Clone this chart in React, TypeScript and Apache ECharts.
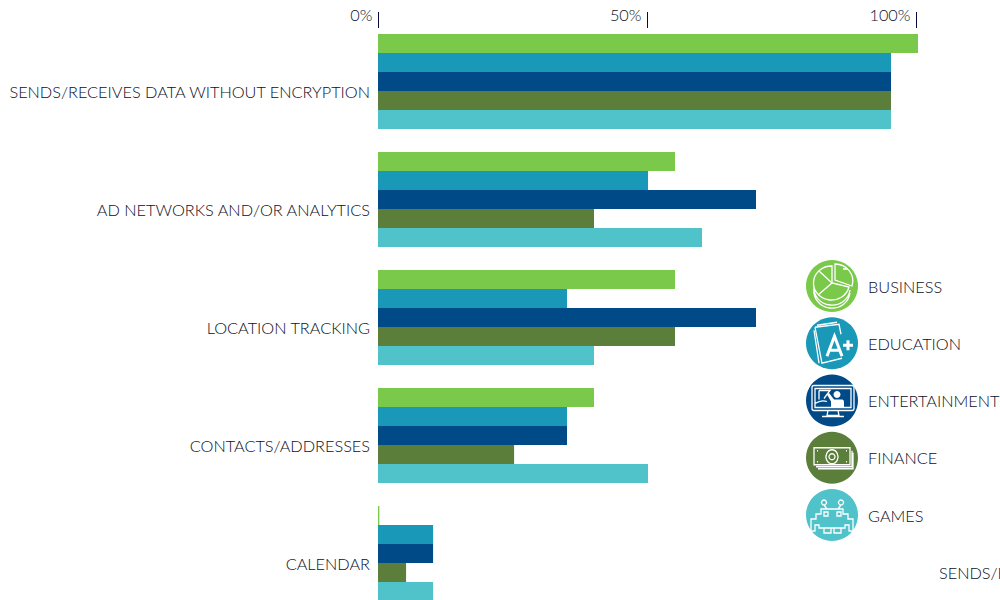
import React, { useEffect, useRef } from "react";
import * as echarts from "echarts";

const categories = [
  "SENDS/RECEIVES DATA WITHOUT ENCRYPTION",
  "AD NETWORKS AND/OR ANALYTICS",
  "LOCATION TRACKING",
  "CONTACTS/ADDRESSES",
  "CALENDAR",
];
const business = [100, 55, 55, 40, 0.25];
const education = [95, 50, 35, 35, 10.2];
const entertainment = [95, 70, 70, 35, 10.2];
const finance = [95, 40, 55, 25.2, 5.2];
const games = [95, 60, 40, 50, 10.2];
const seriesNames = ["BUSINESS", "EDUCATION", "ENTERTAINMENT", "FINANCE", "GAMES"];
const seriesColors = ["#7ac94a", "#1a98b8", "#004b87", "#5b7f3a", "#4fc3c9"];
const strayLabel = "SENDS/RECEIVES DATA WITHOUT ENCRYPTION";

const FONT = "Lato";
const TEXT = "#0c0e24";
const SIZE = 16.3;

const iconPaths = [
  [
    "M26 6A18 17 0 1 0 43 27L26 23ZM26 23L13 11M26 23L12 35M8 26A18 17 0 0 0 44 30M8 29A18 17 0 0 0 44 33M29 4L29 20L46 26A18 17 0 0 0 29 4ZM37 9H42",
    "",
  ],
  [
    "M9 10L33 7L35 17M9 10L16 46L36 41M11 8L31 5M8 13L13 46",
    "M21 39L28.5 19L36 39M24 33H33M37 28H47M42 23V33",
  ],
  [
    "M8 11H46Q48 11 48 13V34Q48 36 46 36H8Q6 36 6 34V13Q6 11 8 11ZM9 14H45V33H9ZM22 36L21 41H33L32 36M16 42H38M9 29Q15 25 21 27M13 16V25M13 16H24L18 24",
    "M31 16.5A3.5 3.5 0 1 0 31.01 16.5ZM25 33V27L21 20L23 18.5L28 25H36Q38 25 38 28V33Z",
  ],
  [
    "M8 16H44V33H8ZM46 19V35H10M47 21V37H12M11 19H12M40 19H41M11 30H12M40 30H41M26 18A6 7 0 1 0 26.01 18ZM26 22A3 3 0 1 0 26.01 22Z",
    "",
  ],
  [
    "M15 20H37V25H42V30H47V42H43V36H39V39H13V36H9V42H5V30H10V25H15ZM18 23H22V27H18ZM31 23H35V27H31ZM18 16L21 20M35 16L32 20M18 11A2.5 2.5 0 1 0 18.01 11ZM35 11A2.5 2.5 0 1 0 35.01 11ZM18 39H25V44H18ZM28 39H35V44H28Z",
    "",
  ],
];

iconPaths.forEach((pair, i) => {
  echarts.graphic.registerShape(`iconLine${i}`, echarts.graphic.extendPath(pair[0], {}));
  if (pair[1]) echarts.graphic.registerShape(`iconBold${i}`, echarts.graphic.extendPath(pair[1], {}));
});

export default function App() {
  const ref = useRef<HTMLDivElement>(null);
  useEffect(() => {
    const chart = echarts.init(ref.current!, undefined, { renderer: "svg" });
    const data = [business, education, entertainment, finance, games];
    const icons: any[] = [];
    iconPaths.forEach((pair, i) => {
      const x = 806;
      const y = 260 + 57.25 * i;
      icons.push({ type: `iconLine${i}`, x, y, z: 100, style: { fill: "none", stroke: "#fff", lineWidth: 1.3 } });
      if (pair[1]) {
        icons.push({
          type: `iconBold${i}`, x, y, z: 100,
          style: i === 2 ? { fill: "#fff", stroke: "none" } : { fill: "none", stroke: "#fff", lineWidth: 3 },
        });
      }
    });
    chart.setOption({
      animation: false,
      grid: [
        { left: 378, top: 22.5, width: 540, height: 590 },
        { left: 378.5, top: 22.5, width: 538, height: 590 },
      ],
      xAxis: [
        { type: "value", gridIndex: 0, min: 0, max: 100, show: false },
        {
          type: "value", gridIndex: 1, position: "top", min: 0, max: 100, interval: 50, offset: -5.5,
          splitLine: { show: false },
          axisLine: { show: false },
          axisTick: { show: true, length: 16, lineStyle: { color: "#0a0a3c", width: 1 } },
          axisLabel: { color: TEXT, fontFamily: FONT, fontWeight: 300, fontSize: SIZE, align: "right", margin: 6, padding: [0, 6, 0, 0], formatter: (v: number) => `${v}%` },
        },
      ],
      yAxis: [
        {
          type: "category", gridIndex: 0, inverse: true, data: categories,
          axisLine: { show: false }, axisTick: { show: false },
          axisLabel: { color: TEXT, fontFamily: FONT, fontWeight: 300, fontSize: SIZE, margin: 8, lineHeight: 19, verticalAlign: "top" },
        },
        { type: "category", gridIndex: 1, show: false, data: categories },
      ],
      legend: {
        orient: "vertical", left: 806, top: 260, padding: 0, itemWidth: 52, itemHeight: 52, itemGap: 5.25,
        icon: "circle", data: seriesNames, selectedMode: false,
        textStyle: { color: TEXT, fontFamily: FONT, fontWeight: 300, fontSize: SIZE, padding: [0, 0, 0, 5] },
      },
      graphic: [
        ...icons,
        { type: "text", x: 939, y: 564, style: { text: strayLabel, fill: TEXT, font: `300 ${SIZE}px ${FONT}` } },
      ],
      series: seriesNames.map((name, i) => ({
        name, type: "bar", xAxisIndex: 0, yAxisIndex: 0, data: data[i], barWidth: 19, barGap: "0%",
        itemStyle: { color: seriesColors[i] },
      })),
    });
    return () => chart.dispose();
  }, []);
  return (
    <div style={{ position: "absolute", left: 0, top: 0, width: 1000, height: 600, overflow: "hidden" }}>
      <div ref={ref} style={{ width: 1000, height: 640 }} />
    </div>
  );
}
